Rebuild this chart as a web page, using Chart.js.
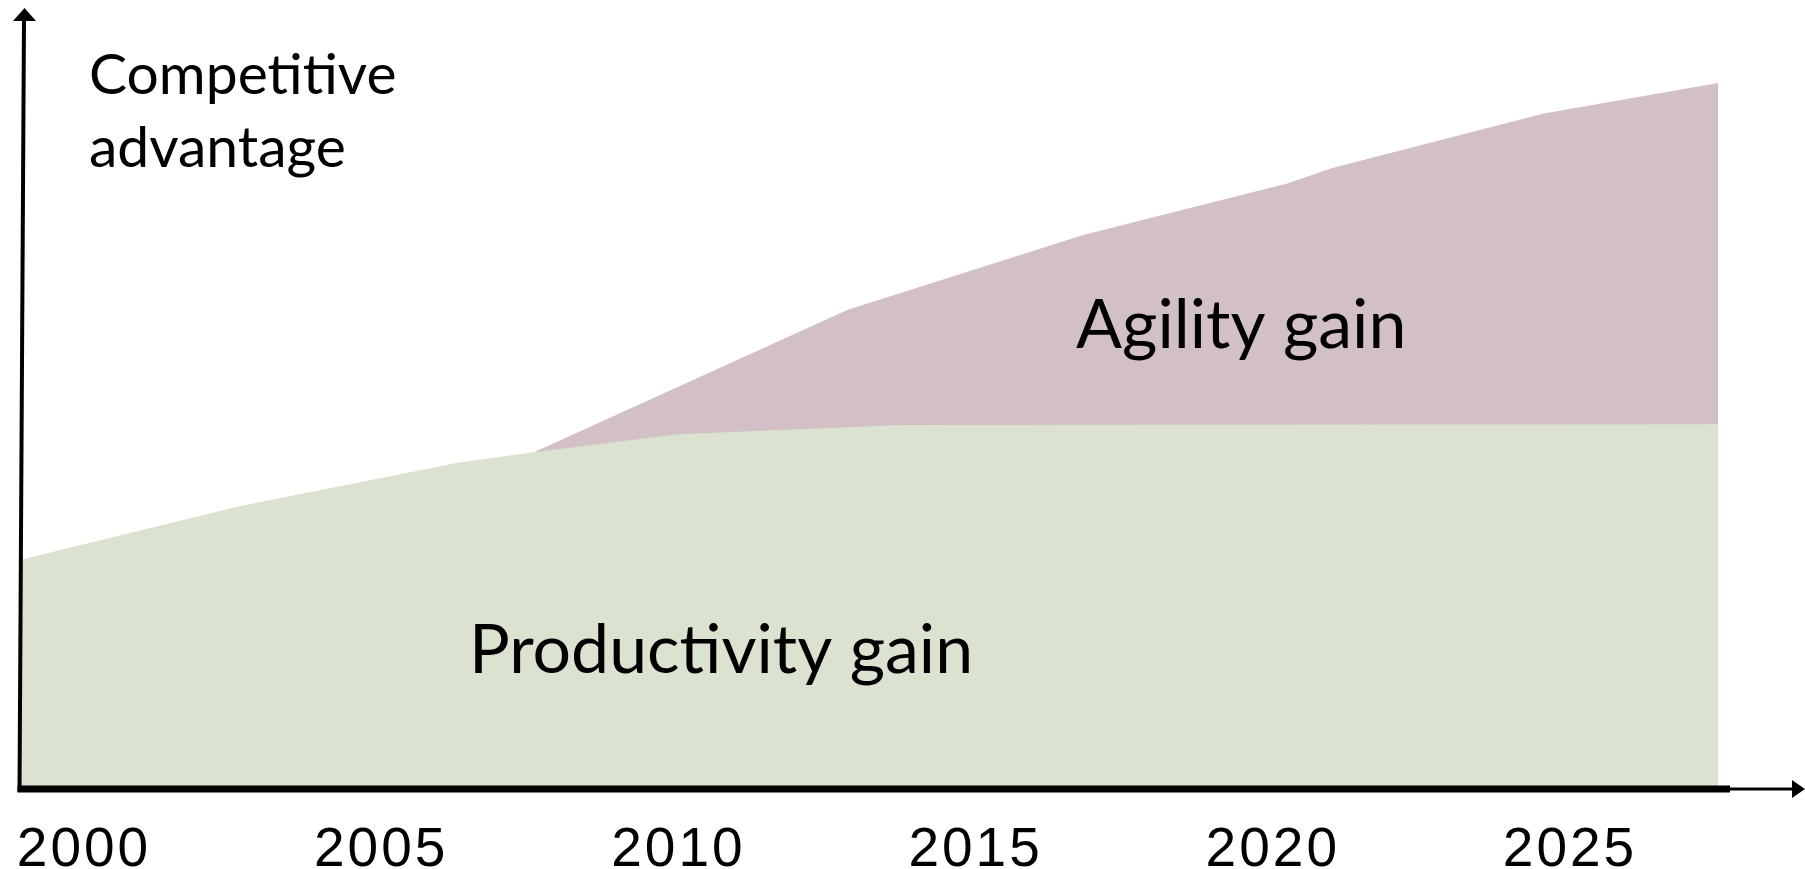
<!DOCTYPE html>
<html>
<head>
<meta charset="utf-8">
<title>Competitive advantage</title>
<script src="https://cdn.jsdelivr.net/npm/chart.js"></script>
<style>
  html, body { margin: 0; padding: 0; background: #fff; }
  #wrap { width: 1805px; height: 869px; }
</style>
</head>
<body>
<div id="wrap"><canvas id="chart"></canvas></div>
<script>
// values (x in years, y in % of axis height)
const productivityYears = [1998.94, 2002.57, 2006.31, 2007.57, 2009.99, 2013.76, 2027.49];
const productivityValues = [29.3, 36.1, 41.8, 43.1, 45.4, 46.6, 46.7];
const agilityYears = [2007.57, 2012.85, 2016.81, 2020.24, 2021.0, 2024.56, 2027.49];
const agilityValues = [43.1, 61.4, 71.0, 77.6, 79.6, 86.6, 90.5];
const tickYears = [2000, 2005, 2010, 2015, 2020, 2025];

const toPoints = (xs, ys) => xs.map((x, i) => ({ x: x, y: ys[i] }));

// hand-drawn looking axes with arrows + the text labels
const axesAndText = {
  id: 'axesAndText',
  beforeDraw(chart) {
    // year labels in the original are a bit loosely spaced
    chart.ctx.letterSpacing = '3px';
  },
  afterDraw(chart) {
    const ctx = chart.ctx;
    const area = chart.chartArea;
    const y0 = area.bottom + 1;
    ctx.save();
    ctx.letterSpacing = '0px';
    ctx.fillStyle = '#000';
    ctx.strokeStyle = '#000';

    // y axis, slightly slanted like the original
    ctx.lineWidth = 4;
    ctx.beginPath();
    ctx.moveTo(24, 18);
    ctx.lineTo(19.5, y0 + 3);
    ctx.stroke();
    ctx.beginPath();
    ctx.moveTo(24.5, 8);
    ctx.lineTo(36, 21);
    ctx.lineTo(13, 21);
    ctx.closePath();
    ctx.fill();

    // x axis: thick part, then thin part with arrow
    ctx.lineWidth = 7;
    ctx.beginPath();
    ctx.moveTo(17.5, y0);
    ctx.lineTo(1730, y0);
    ctx.stroke();
    ctx.lineWidth = 3;
    ctx.beginPath();
    ctx.moveTo(1730, y0);
    ctx.lineTo(1795, y0);
    ctx.stroke();
    ctx.beginPath();
    ctx.moveTo(1805, y0);
    ctx.lineTo(1792, y0 - 9);
    ctx.lineTo(1792, y0 + 9);
    ctx.closePath();
    ctx.fill();

    ctx.textBaseline = 'alphabetic';
    ctx.textAlign = 'left';
    ctx.font = '57px Lato';
    ctx.fillText('Competitive', 89, 94);
    ctx.fillText('advantage', 89, 167);
    ctx.font = '68px Lato';
    ctx.fillText('Agility gain', 1076, 348);
    ctx.fillText('Productivity gain', 469, 673);
    ctx.restore();
    ctx.letterSpacing = '0px';
  }
};

new Chart(document.getElementById('chart'), {
  type: 'line',
  data: {
    datasets: [
      {
        label: 'Productivity gain',
        data: toPoints(productivityYears, productivityValues),
        backgroundColor: '#dbe2d0',
        borderWidth: 0,
        pointRadius: 0,
        fill: 'origin'
      },
      {
        label: 'Agility gain',
        data: toPoints(agilityYears, agilityValues),
        backgroundColor: '#d3c0c7',
        borderWidth: 0,
        pointRadius: 0,
        fill: 'origin'
      }
    ]
  },
  options: {
    responsive: true,
    maintainAspectRatio: false,
    animation: false,
    layout: { padding: { left: 21, right: 87, top: 9, bottom: -44 } },
    plugins: { legend: { display: false }, tooltip: { enabled: false } },
    elements: { line: { tension: 0 } },
    scales: {
      x: {
        type: 'linear',
        min: productivityYears[0],
        max: productivityYears[productivityYears.length - 1],
        grid: { display: false, drawTicks: false },
        border: { display: false },
        afterBuildTicks: (axis) => { axis.ticks = tickYears.map(v => ({ value: v })); },
        afterFit: (axis) => { axis.paddingLeft = 0; axis.paddingRight = 0; },
        ticks: {
          autoSkip: false,
          maxRotation: 0,
          padding: 35,
          color: '#000',
          font: { family: 'Liberation Sans', size: 55, lineHeight: 1 },
          callback: (v) => String(v)
        }
      },
      y: { display: false, min: 0, max: 100 }
    }
  },
  plugins: [axesAndText]
});
</script>
</body>
</html>
